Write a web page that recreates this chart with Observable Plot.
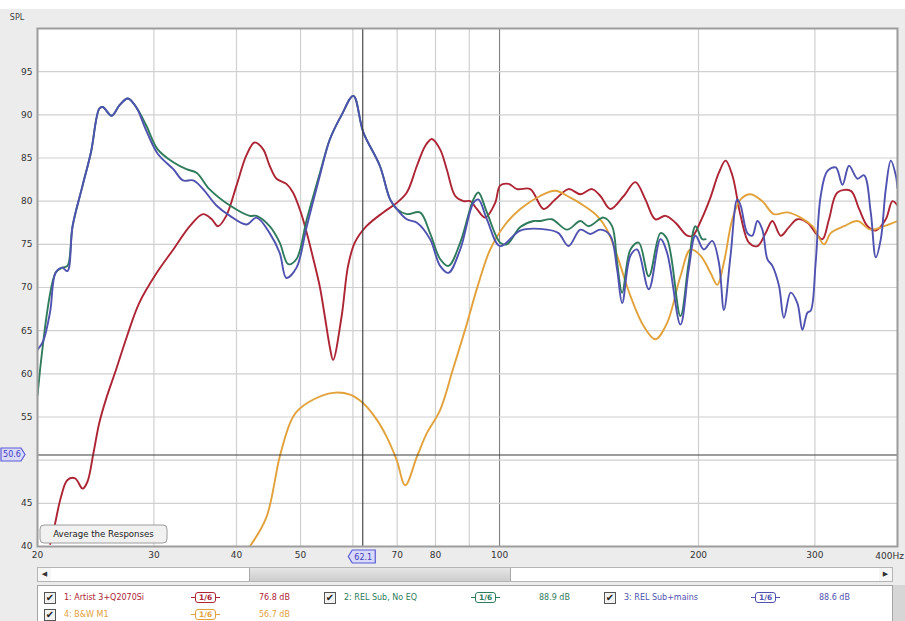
<!DOCTYPE html>
<html>
<head>
<meta charset="utf-8">
<script src="https://cdn.jsdelivr.net/npm/d3@7"></script>
<script src="https://cdn.jsdelivr.net/npm/@observablehq/plot@0.6"></script>
<style>
html,body{margin:0;padding:0;background:#fff;}
#wrap{position:relative;width:905px;height:621px;overflow:hidden;background:linear-gradient(#fff 0,#fff 9px,#ececec 9px);font-family:"DejaVu Sans",sans-serif;}
#chart svg{display:block}
#scroll{position:absolute;left:37px;top:567px;width:856px;height:15px;background:#fff;border:1px solid #b5b5b5;box-sizing:border-box}
#scroll .btn{position:absolute;top:0;width:13px;height:13px;font-size:7px;line-height:13px;text-align:center;color:#333;background:#f6f6f6}
#scroll .thumb{position:absolute;left:211px;width:262px;top:0;height:13px;background:linear-gradient(#e6e6e6,#cdcdcd);border-left:1px solid #a8a8a8;border-right:1px solid #a8a8a8;box-sizing:border-box}
#legend{position:absolute;left:37px;top:585px;width:856px;height:40px;background:#fff;border:1px solid #a5a5a5;box-sizing:border-box;display:flex;flex-wrap:wrap;align-content:flex-start;padding-top:3px}
#rbar{position:absolute;left:893px;top:585px;width:12px;height:40px;background:#d6d6d6}
.item{width:280px;height:17px;display:flex;align-items:center;font-size:8px;white-space:nowrap}
.cb{margin-left:6px;width:12px;height:12px;border:1px solid #555;box-sizing:border-box;background:#f2f2f2;font-size:10px;line-height:10px;text-align:center;color:#222;flex:none}
.name{margin-left:8px;width:127px;flex:none}
.icon{width:68px;flex:none;display:flex;align-items:center}
.icon .ln{width:4px;height:0;border-top:1.5px solid currentColor}
.icon .bx{border:1.5px solid currentColor;border-radius:3px;font-size:7.5px;font-weight:bold;padding:0 3px;line-height:9px}
.lvl{flex:none}
</style>
</head>
<body>
<div id="wrap">
  <div id="chart"></div>
  <div id="scroll"><div class="btn" style="left:0">&#9664;</div><div class="thumb"></div><div class="btn" style="right:0">&#9654;</div></div>
  <div id="legend"></div>
  <div id="rbar"></div>
</div>
<script>
// ---- data (frequency in Hz, level in dB SPL) ----
const seriesNames  = ["1: Artist 3+Q2070Si", "2: REL Sub, No EQ", "3: REL Sub+mains", "4: B&W M1"];
const seriesColors = ["#ad2434", "#2f7b5c", "#4f52b0", "#e2a13a"];
const seriesLevels = ["76.8 dB", "88.9 dB", "88.6 dB", "56.7 dB"];
const smoothing    = "1/6";

const s1Freq = [20.9,21.2,21.7,22.2,22.8,23.4,23.8,24.3,24.8,25.4,26.3,27.3,28.5,30.3,32.1,34.0,35.6,36.7,37.5,38.6,40.0,41.4,42.6,43.9,44.9,46.0,47.6,48.7,50.0,51.1,52.2,53.5,54.4,55.4,56.0,57.7,59.0,60.4,62.9,66.7,69.9,72.4,75.0,77.2,79.0,81.3,83.2,85.7,88.2,90.3,92.4,95.1,98.5,100.2,103.2,106.3,111.3,116.6,121.4,127.2,132.5,138,142.1,147.1,154.1,160.5,166.2,172.1,178.3,184.6,192.3,196,201,208,214.7,219.8,225,231.6,238.4,245.5,252.7,258.7,266.3,274.1,282.2,292.3,300.8,308,315.1,324.5,339.9,349.9,360.3,370.9,384,393.1,400];
const s1Db   = [40.3,42.2,45.7,47.7,47.9,46.7,47.5,50.8,54.3,57.1,60.5,64.3,68.2,71.7,74.4,77.1,78.5,77.9,77.1,78.3,81.8,85.3,86.8,86.0,84.1,82.6,82.0,81.0,78.8,76.3,73.5,70.0,66.7,63.0,61.6,66.7,72.5,75.2,77.1,78.7,79.8,81.0,84.1,86.4,87.2,86.0,83.7,80.6,80.0,80.0,79.1,78.1,79.8,81.8,82.0,81.4,81.4,79.1,80.2,81.4,80.8,81.4,80.6,79.1,80.6,82.2,80.2,77.9,78.3,77.5,76.0,76.0,77.5,80.2,83.3,84.7,83.0,78.3,75.2,74.8,76.3,77.7,76.0,77.0,77.9,77.5,76.3,75.6,77.9,81.0,81.2,79.1,77.1,76.6,77.9,80.0,79.5];

const s2Freq = [20,21.3,21.8,22.2,22.6,23.4,24.1,24.8,25.1,25.9,26.6,27.4,28.2,29.2,30.4,32.1,33.6,34.8,36.4,39.1,41.9,42.9,44.9,46.5,47.9,49.3,51.1,53.5,55.4,57.7,60.1,62.2,65.9,68.3,69.9,72.4,75.8,78.5,81.3,83.7,87.2,91.3,92.9,95.7,100.2,102.6,107.5,112.6,115.2,120,126.5,132.5,136.4,143.7,148,150.6,153.3,157.8,162.4,168.2,175.2,179.3,187.8,193.3,197.9,202.6,205];
const s2Db   = [57.5,71.7,72.3,72.5,77.1,81.8,85.7,90.7,90.9,89.9,91.1,91.9,90.9,88.8,86.0,84.5,83.7,83.3,81.4,79.5,78.3,78.3,77.1,75.2,72.7,73.3,77.9,83.3,87.2,90.0,92.2,88.0,84.1,80.2,79.1,78.5,78.7,76.3,73.3,72.5,75.2,80.2,81.0,78.7,75.2,75.0,77.0,77.7,77.7,77.9,76.7,77.7,77.1,78.1,77.1,72.9,69.4,74.4,75.2,71.3,76.3,75.6,66.7,72.9,77.1,75.6,75.6];

const s3Freq = [20,20.4,20.9,21.3,21.8,22.2,22.6,23.4,24.1,24.8,25.1,25.9,26.6,27.4,28.2,29.2,30.4,32.1,33.2,34.4,35.6,37.3,39.1,41.4,42.9,44.9,46.5,47.6,49.3,51.1,53.5,55.4,57.7,60.1,62.2,65.9,68.3,69.9,72.4,75.0,78.5,81.3,83.7,87.2,91.3,92.9,95.7,100.2,107.5,118,122.8,127.2,132.5,137.2,142.1,147.1,150.6,153.3,157.8,161.5,168.2,175.2,179.3,187.8,193.3,197.9,203.7,209.8,214.7,218.5,223.6,228.9,231.6,237.1,241.2,245.5,249.8,254.2,258.7,264.7,269.3,275.7,282.2,287.2,292.3,295.6,300.8,306.1,313.4,322.6,330.2,337.9,347.9,356,364.4,370.9,377.4,384,390.8,397.6,400];
const s3Db   = [62.8,63.8,67.2,71.7,72.3,71.9,77.1,81.8,85.7,90.7,90.9,89.9,91.1,91.9,90.9,88.2,85.5,83.7,82.4,82.4,81.4,79.5,78.3,77.3,78.1,76.3,74.0,71.1,72.3,77.1,83.0,87.2,90.0,92.2,88.0,84.1,80.2,79.1,77.9,77.5,75.6,72.5,71.7,74.4,79.8,80.2,77.9,74.8,76.6,76.7,76.3,74.8,76.7,76.2,76.7,76.0,72.1,68.2,73.7,74.4,69.8,75.6,74.0,65.7,72.1,76.0,74.4,75.4,72.9,67.4,73.7,80.2,79.5,76.3,76.0,77.7,76.7,73.3,72.5,70.2,66.5,69.4,68.2,65.1,67.1,67.3,72.9,80.6,83.5,83.9,81.9,84.1,82.6,83.0,78.7,73.5,75.6,81.4,84.7,83.0,81.5];

const s4Freq = [41.9,44.4,46.5,48.2,49.3,52.2,56.0,59.4,62.2,65.2,67.5,69.9,72.0,75.0,77.6,81.3,85.0,88.7,92.8,96.8,102,107.5,115.2,121.4,128,134,140.5,145.4,150.6,157.8,165.3,172.1,179.3,187.8,194.5,201.4,208.5,213.5,218.5,225,231.6,239.8,249.8,260.1,272.6,285.5,297.4,309.7,317,332.1,347.9,364.4,381.7,400];
const s4Db   = [40.0,43.4,50.4,54.3,55.6,57.0,57.8,57.6,56.6,54.7,52.7,50.0,47.1,50.4,53.1,55.8,60.5,65.1,70.3,74.4,77.3,79.1,80.6,81.2,80.4,79.5,78.3,76.7,73.7,69.0,65.5,64.0,65.9,71.3,74.4,73.7,71.7,70.3,72.9,77.9,80.2,80.8,80.0,78.5,78.7,78.1,77.1,75.0,76.3,77.1,77.7,76.7,77.1,77.7];

const xTickValues = [20,30,40,50,70,80,90,100,200,300];
const xEndTick    = 400;
const xEndLabel   = "400Hz";
const xGridValues = [20,30,40,50,60,70,80,90,200,300,400];
const xMajorGrid  = [100];
const yTickValues = [40,45,55,60,65,70,75,80,85,90,95];
const yGridValues = [45,50,55,60,65,70,75,80,85,90,95];
const cursorFreq  = 62.1;
const cursorLevel = 50.6;
const buttonLabel = "Average the Responses";

// ---- build tables ----
const toRows = (fs, ds) => fs.map((f, i) => ({f, db: ds[i]}));
const series = [toRows(s1Freq, s1Db), toRows(s2Freq, s2Db), toRows(s3Freq, s3Db), toRows(s4Freq, s4Db)];
const drawOrder = [0, 3, 1, 2];

function overlay(index, scales, values, dimensions) {
  const {x, y} = scales;
  const {marginLeft, marginTop, marginBottom, height, width} = dimensions;
  const g = d3.create("svg:g").attr("font-family", "DejaVu Sans, sans-serif");
  g.append("text").attr("x", marginLeft - 20).attr("y", marginTop - 8)
    .attr("font-size", 8).attr("fill", "#444").text("SPL");
  // last x tick label, kept inside the picture
  g.append("text").attr("x", Math.min(x(xEndTick) + 13, width - 1)).attr("y", height - marginBottom + 13)
    .attr("text-anchor", "end").attr("font-size", 9).attr("fill", "#333").text(xEndLabel);
  // button
  const by = height - marginBottom - 21;
  g.append("rect").attr("x", marginLeft + 3).attr("y", by).attr("width", 127).attr("height", 18)
    .attr("rx", 4).attr("fill", "#f1f1f1").attr("stroke", "#9c9c9c");
  g.append("text").attr("x", marginLeft + 3 + 63.5).attr("y", by + 12.3).attr("text-anchor", "middle")
    .attr("font-size", 8.6).attr("fill", "#222").text(buttonLabel);
  // x cursor tag
  const cx = x(cursorFreq), ty = height - marginBottom + 4;
  g.append("path").attr("d", `M${cx-14},${ty+6.5}L${cx-10},${ty}L${cx+13},${ty}L${cx+13},${ty+13}L${cx-10},${ty+13}Z`)
    .attr("fill", "#d9d9fa").attr("stroke", "#5a5ad6").attr("stroke-width", 1.2);
  g.append("text").attr("x", cx + 1).attr("y", ty + 9.8).attr("text-anchor", "middle")
    .attr("font-size", 8).attr("fill", "#3d3db8").text(cursorFreq.toFixed(1));
  // y cursor tag
  const cy = y(cursorLevel);
  g.append("path").attr("d", `M1,${cy-6.5}L21,${cy-6.5}L25,${cy}L21,${cy+6.5}L1,${cy+6.5}Z`)
    .attr("fill", "#d9d9fa").attr("stroke", "#5a5ad6").attr("stroke-width", 1.2);
  g.append("text").attr("x", 12).attr("y", cy + 3).attr("text-anchor", "middle")
    .attr("font-size", 8).attr("fill", "#3d3db8").text(cursorLevel.toFixed(1));
  return g.node();
}

const chart = Plot.plot({
  width: 905,
  height: 566,
  marginTop: 28,
  marginLeft: 37,
  marginRight: 8,
  marginBottom: 20,
  style: {background: "transparent", fontFamily: "DejaVu Sans, sans-serif", fontSize: "9px", color: "#333"},
  x: {type: "log", domain: [20, 400], ticks: xTickValues, tickFormat: d => String(d), tickSize: 0, tickPadding: 5, label: null},
  y: {domain: [40, 100], ticks: yTickValues, tickSize: 0, tickPadding: 5, label: null},
  marks: [
    Plot.frame({fill: "white", stroke: null}),
    Plot.ruleX(xGridValues, {stroke: "#d0d0d0", strokeWidth: 1.2}),
    Plot.ruleX(xMajorGrid, {stroke: "#808080", strokeWidth: 1.1}),
    Plot.ruleY(yGridValues, {stroke: "#d0d0d0", strokeWidth: 1.2}),
    ...drawOrder.map(i => Plot.line(series[i], {x: "f", y: "db", stroke: seriesColors[i], strokeWidth: 1.9, curve: "catmull-rom", clip: true})),
    Plot.ruleX([cursorFreq], {stroke: "#3c3c3c", strokeWidth: 1.1}),
    Plot.ruleY([cursorLevel], {stroke: "#3c3c3c", strokeWidth: 1.1}),
    Plot.frame({stroke: "#9d9d9d", strokeWidth: 2}),
    overlay
  ]
});
document.getElementById("chart").appendChild(chart);

// ---- legend ----
const legend = d3.select("#legend");
seriesNames.forEach((name, i) => {
  const it = legend.append("div").attr("class", "item").style("color", seriesColors[i]);
  it.append("div").attr("class", "cb").text("\u2714");
  it.append("div").attr("class", "name").text(name);
  const ic = it.append("div").attr("class", "icon");
  ic.append("div").attr("class", "ln");
  ic.append("div").attr("class", "bx").text(smoothing);
  ic.append("div").attr("class", "ln");
  it.append("div").attr("class", "lvl").text(seriesLevels[i]);
});
</script>
</body>
</html>
